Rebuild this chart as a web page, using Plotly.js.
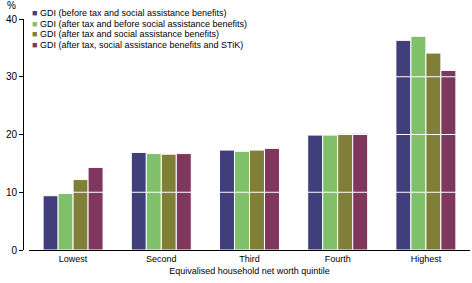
<!DOCTYPE html>
<html>
<head>
<meta charset="utf-8">
<script src="https://cdn.plot.ly/plotly-3.0.1.min.js"></script>
<style>
	html, body { margin: 0; padding: 0; background: #fff; }
	#chart { width: 472px; height: 283px; }
</style>
</head>
<body>
<div id="chart"></div>
<script>
const quintiles = ["Lowest", "Second", "Third", "Fourth", "Highest"];
const seriesNames = [
	"GDI (before tax and social assistance benefits)",
	"GDI (after tax and before social assistance benefits)",
	"GDI (after tax and social assistance benefits)",
	"GDI (after tax, social assistance benefits and STiK)"
];
const beforeTax = [9.4, 16.9, 17.3, 19.9, 36.3];
const afterTaxBeforeBenefits = [9.8, 16.7, 17.1, 19.9, 37.0];
const afterTaxBenefits = [12.2, 16.6, 17.3, 20.2, 34.1];
const afterTaxBenefitsStik = [14.3, 16.7, 17.6, 20.2, 31.1];
const yTicks = [0, 10, 20, 30, 40];

const colors = ["#403e7b", "#80c06b", "#7f7f38", "#7f375e"];
const seriesValues = [beforeTax, afterTaxBeforeBenefits, afterTaxBenefits, afterTaxBenefitsStik];

const traces = seriesValues.map((values, i) => ({
	x: quintiles,
	y: values,
	type: "bar",
	name: seriesNames[i],
	marker: {
		color: colors[i],
		line: { color: "#fff", width: 1 }
	},
	hoverinfo: "skip"
}));

// white gridlines sit on top of the bars in the original
const gridShapes = yTicks.filter(t => t > 0).map(t => ({
	type: "line",
	xref: "paper",
	yref: "y",
	x0: 0.0134,
	x1: 1,
	y0: t,
	y1: t,
	layer: "above",
	line: { color: "#fff", width: 1 }
}));

// compact legend drawn as annotations
const legendNotes = seriesNames.map((name, i) => ({
	xref: "paper",
	yref: "paper",
	x: 0.015,
	y: 1.026 - i * 0.0463,
	xanchor: "left",
	yanchor: "middle",
	showarrow: false,
	align: "left",
	text: `<span style="color:${colors[i]}">■</span> ${name}`,
	font: { family: "Liberation Sans, Arial", size: 9, color: "#000" }
}));

const layout = {
	width: 472,
	height: 283,
	margin: { l: 23, r: 2, t: 19, b: 33 },
	paper_bgcolor: "#fff",
	plot_bgcolor: "#fff",
	showlegend: false,
	barmode: "group",
	bargap: 0.32,
	bargroupgap: 0,
	font: { family: "Liberation Sans, Arial", size: 9, color: "#000" },
	xaxis: {
		domain: [0.0134, 1],
		showline: true,
		linecolor: "#000",
		linewidth: 1,
		ticks: "",
		showgrid: false,
		tickfont: { size: 9 },
		title: {
			text: "Equivalised household net worth quintile",
			font: { size: 9 },
			standoff: 4
		}
	},
	yaxis: {
		anchor: "free",
		position: 0,
		range: [0, 40],
		tickvals: yTicks,
		ticks: "outside",
		ticklen: 4,
		tickcolor: "#000",
		showline: true,
		linecolor: "#000",
		linewidth: 1,
		showgrid: false,
		zeroline: false,
		tickfont: { size: 10 }
	},
	shapes: gridShapes,
	annotations: [
		{
			xref: "paper",
			yref: "paper",
			x: -0.025,
			y: 1.06,
			xanchor: "center",
			yanchor: "middle",
			showarrow: false,
			text: "%",
			font: { size: 10 }
		},
		...legendNotes
	]
};

Plotly.newPlot("chart", traces, layout, { displayModeBar: false, staticPlot: true });
</script>
</body>
</html>
